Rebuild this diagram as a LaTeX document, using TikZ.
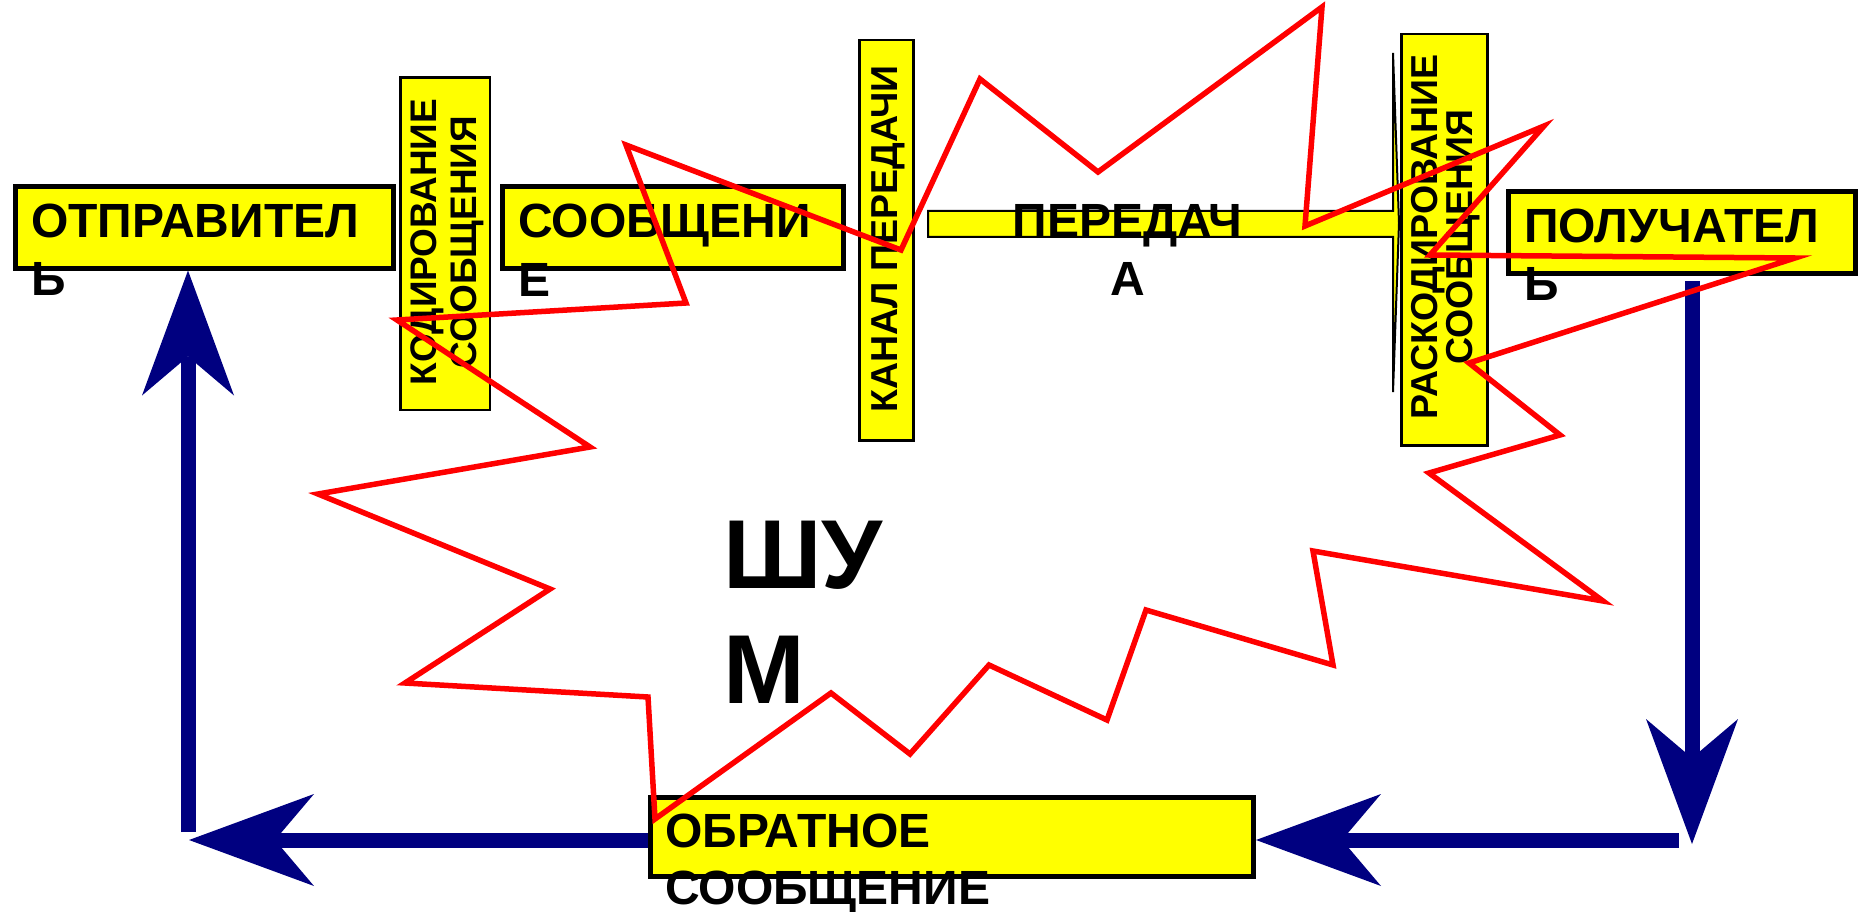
\documentclass[tikz,border=0pt]{standalone}
\usepackage{fontspec}
\setmainfont{Liberation Sans}
\usetikzlibrary{arrows.meta}
\definecolor{yel}{RGB}{255,255,0}
\definecolor{nav}{RGB}{0,0,128}
\definecolor{rd}{RGB}{255,0,0}
\begin{document}
\begin{tikzpicture}[x=1pt,y=-1pt,
  thickbox/.style={draw=black, line width=5pt, fill=yel, inner sep=0pt, anchor=north west},
  thinbox/.style={draw=black, line width=2.5pt, fill=yel, inner sep=0pt, anchor=north west},
  lbl/.style={inner sep=0pt, anchor=base west, font=\fontsize{48}{57}\selectfont\bfseries},
  vlbl/.style={inner sep=0pt, rotate=90, align=center},
  flow/.style={draw=nav, line width=15pt, -{Stealth[length=125pt,width=92pt,inset=39pt,line width=0pt]}},
  noise/.style={draw=rd, line width=5.5pt, line join=miter}
]
\useasboundingbox (0,0) rectangle (1858,912);

% boxes
\node[thickbox, minimum width=378pt, minimum height=81pt] (ot) at (12.5,184.5) {};
\node[thinbox, minimum width=89.5pt, minimum height=332.5pt] (kod) at (399.25,76.25) {};
\node[thickbox, minimum width=341pt, minimum height=81pt] (soob) at (499.5,184.5) {};
\node[thinbox, minimum width=54pt, minimum height=400pt] (kanal) at (858,39) {};
\draw[draw=black, line width=2pt, fill=yel] (928,211) -- (1393,211) -- (1393,53) -- (1399,223) -- (1393,392) -- (1393,237) -- (928,237) -- cycle;
\node[thinbox, minimum width=86pt, minimum height=411pt] (rask) at (1400,33) {};
\node[thickbox, minimum width=347pt, minimum height=81pt] (pol) at (1505.5,189.5) {};
\node[thickbox, minimum width=603pt, minimum height=79pt] (obr) at (648,794.5) {};

% texts
\node[lbl] (otA) at (31,238) {ОТПРАВИТЕЛ};
\node[lbl] (otB) at (31,295) {Ь};
\node[lbl] (soA) at (518,238) {СООБЩЕНИ};
\node[lbl] (soB) at (518,296) {Е};
\node[lbl] (poA) at (1524,243) {ПОЛУЧАТЕЛ};
\node[lbl] (poB) at (1524,300) {Ь};
\node[lbl] (obA) at (665,847) {ОБРАТНОЕ};
\node[lbl] (obB) at (665,904) {СООБЩЕНИЕ};
\node[lbl, anchor=base] (peA) at (1127.5,237) {ПЕРЕДАЧ};
\node[lbl, anchor=base] (peB) at (1128,295) {А};
\node[vlbl, font=\fontsize{37}{40}\selectfont\bfseries] (kodT) at (447,242) {КОДИРОВАНИЕ\\СООБЩЕНИЯ};
\node[vlbl, anchor=base, font=\fontsize{37.5}{40}\selectfont\bfseries] (kanT) at (897,239) {КАНАЛ ПЕРЕДАЧИ};
\node[vlbl, font=\fontsize{37.5}{35}\selectfont\bfseries] (raskT) at (1446,237) {РАСКОДИРОВАНИЕ\\СООБЩЕНИЯ};
\node[inner sep=0pt, anchor=base west, font=\fontsize{98}{115}\selectfont\bfseries] (shA) at (723,588) {ШУ};
\node[inner sep=0pt, anchor=base west, font=\fontsize{98}{115}\selectfont\bfseries] (shB) at (723,703) {М};

% feedback loop
\coordinate (d1) at (1692,281);
\coordinate (d2) at (1692,844);
\coordinate (r1) at (1679,840);
\coordinate (l2) at (189,840);
\coordinate (u1) at (188,832);
\draw[flow] (d1) -- (d2);
\draw[flow] (r1) -- (r1 -| obr.east);
\draw[flow] (r1 -| obr.west) -- (l2);
\draw[flow] (u1) -- (u1 |- ot.south);

% noise
\draw[noise] (655,819) -- (648,697) -- (405,683) -- (550,589) -- (318,494) -- (590,447)
  -- (397,320) -- (686,303) -- (626,145) -- (901,250) -- (980,79) -- (1098,172)
  -- (1322,7) -- (1305,226) -- (1544,126) -- (1430,255) -- (1795,258) -- (1469,363)
  -- (1560,435) -- (1429,473) -- (1603,601) -- (1313,551) -- (1333,665) -- (1146,610)
  -- (1107,720) -- (989,665) -- (910,754) -- (831,693) -- cycle;
\end{tikzpicture}
\end{document}
